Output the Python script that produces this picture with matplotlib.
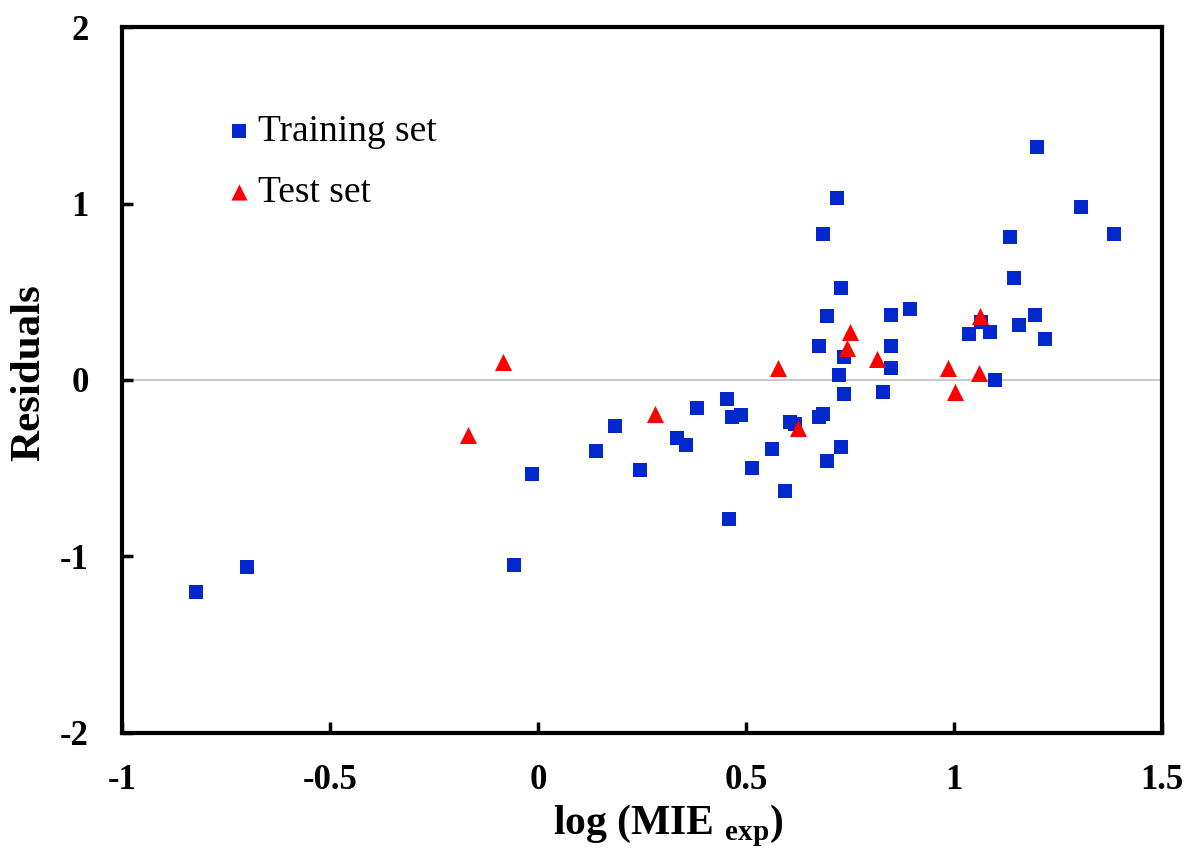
import matplotlib
matplotlib.use("Agg")
import matplotlib.pyplot as plt

plt.rcParams['font.family'] = ['Liberation Serif', 'DejaVu Serif']
plt.rcParams['mathtext.fontset'] = 'custom'
plt.rcParams['mathtext.rm'] = 'Liberation Serif:bold'
plt.rcParams['mathtext.bf'] = 'Liberation Serif:bold'

train_x = [-0.822, -0.700, -0.058, -0.014, 0.139, 0.185, 0.245, 0.334, 0.356, 0.382,
           0.454, 0.459, 0.466, 0.488, 0.514, 0.563, 0.594, 0.606, 0.618,
           0.685, 0.719, 0.728, 0.695, 0.675, 0.736, 0.724, 0.736, 0.685, 0.675,
           0.728, 0.695, 0.849, 0.849, 0.849, 0.829,
           1.199, 1.305, 1.385, 1.135, 1.144, 0.894, 1.195, 1.065, 1.156, 1.036,
           1.087, 1.219, 1.099]
train_y = [-1.20, -1.06, -1.05, -0.53, -0.40, -0.26, -0.51, -0.33, -0.37, -0.16,
           -0.11, -0.79, -0.21, -0.20, -0.50, -0.39, -0.63, -0.24, -0.25,
           0.83, 1.03, 0.52, 0.36, 0.19, 0.13, 0.03, -0.08, -0.19, -0.21,
           -0.38, -0.46, 0.37, 0.19, 0.07, -0.07,
           1.32, 0.98, 0.83, 0.81, 0.58, 0.40, 0.37, 0.33, 0.31, 0.26,
           0.27, 0.23, 0.00]

test_x = [-0.168, -0.084, 0.281, 0.577, 0.625, 0.750, 0.743, 0.815, 0.986, 1.002, 1.060, 1.063]
test_y = [-0.31, 0.10, -0.19, 0.07, -0.27, 0.27, 0.18, 0.12, 0.07, -0.07, 0.04, 0.36]

x_ticks = [-1, -0.5, 0, 0.5, 1, 1.5]
x_ticklabels = ['-1', '-0.5', '0', '0.5', '1', '1.5']
y_ticks = [-2, -1, 0, 1, 2]
y_ticklabels = ['-2', '-1', '0', '1', '2']

fig = plt.figure(figsize=(11.9, 8.52), dpi=100)
ax = fig.add_axes([0.1025, 0.1397, 0.874, 0.8286])

ax.axhline(0, color='#c0c0c0', lw=1.2, zorder=1)
ax.scatter(train_x, train_y, marker='s', s=115, color='#0028CC', lw=0, zorder=3, label='Training set')
ax.scatter(test_x, test_y, marker='^', s=150, color='#FF0000', lw=0, zorder=4, label='Test set')

ax.set_xlim(-1, 1.5)
ax.set_ylim(-2, 2)
ax.set_xticks(x_ticks)
ax.set_xticklabels(x_ticklabels)
ax.set_yticks(y_ticks)
ax.set_yticklabels(y_ticklabels)

for sp in ax.spines.values():
    sp.set_linewidth(3)
ax.tick_params(direction='in', length=8, width=2.5, labelsize=25)
ax.tick_params(axis='y', pad=24)
ax.tick_params(axis='x', pad=22)
for lab in ax.get_xticklabels() + ax.get_yticklabels():
    lab.set_fontweight('bold')

ax.set_xlabel(r'log (MIE $_{\mathrm{exp}}$)', fontsize=30, fontweight='bold')
ax.set_ylabel('Residuals', fontsize=31, fontweight='bold')
ax.xaxis.set_label_coords(0.525, -0.098)
ax.yaxis.set_label_coords(-0.071, 0.511)

leg = ax.legend(loc='upper left', bbox_to_anchor=(0.080, 0.898), frameon=False,
                fontsize=27, handlelength=1.0, handletextpad=0.0, labelspacing=0.72,
                borderaxespad=0, scatterpoints=1, markerscale=0.95)

fig.savefig('out.png', dpi=100)
